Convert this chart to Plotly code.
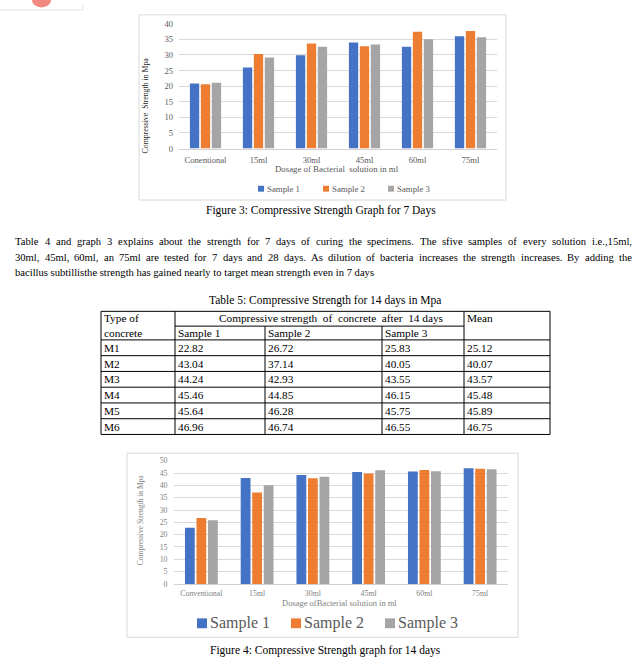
import plotly.graph_objects as go

W, H = 643, 667

# ---------------- data ----------------
categories_7d = ["Conentional", "15ml", "30ml", "45ml", "60ml", "75ml"]
categories_14d = ["Conventional", "15ml", "30ml", "45ml", "60ml", "75ml"]
series_names = ["Sample 1", "Sample 2", "Sample 3"]

sample1_7d = [20.8, 26.0, 29.9, 34.0, 32.6, 36.0]
sample2_7d = [20.6, 30.3, 33.7, 32.8, 37.4, 37.7]
sample3_7d = [21.1, 29.2, 32.6, 33.3, 35.0, 35.7]

mix_types = ["M1", "M2", "M3", "M4", "M5", "M6"]
sample1_14d = [22.82, 43.04, 44.24, 45.46, 45.64, 46.96]
sample2_14d = [26.72, 37.14, 42.93, 44.85, 46.28, 46.74]
sample3_14d = [25.83, 40.05, 43.55, 46.15, 45.75, 46.55]
mean_14d = [25.12, 40.07, 43.57, 45.48, 45.89, 46.75]

y_ticks_7d = [0, 5, 10, 15, 20, 25, 30, 35, 40]
y_ticks_14d = [0, 5, 10, 15, 20, 25, 30, 35, 40, 45, 50]

colors = ["#4472C4", "#ED7D31", "#A5A5A5"]

caption_7d = "Figure 3: Compressive Strength Graph for 7 Days"
caption_14d = "Figure 4: Compressive Strength graph for 14 days"
table_caption = "Table 5: Compressive Strength for 14 days in Mpa"
paragraph = [
    "Table 4 and graph 3 explains about the strength for 7 days of curing the specimens. The sfive samples of every solution i.e.,15ml,",
    "30ml, 45ml, 60ml, an 75ml are tested for 7 days and 28 days. As dilution of bacteria increases the strength increases. By adding the",
    "bacillus subtillisthe strength has gained nearly to target mean strength even in 7 days",
]

FONT = "Liberation Serif, Times New Roman, serif"


def X(px):
    return px / W


def Y(py):
    return 1 - py / H


annotations = []
shapes = []


def text(x, y, s, size, color="#000000", xanchor="left", yanchor="middle", angle=0):
    annotations.append(dict(
        x=X(x), y=Y(y), xref="paper", yref="paper", text=s, showarrow=False,
        xanchor=xanchor, yanchor=yanchor, textangle=angle, borderpad=0, borderwidth=0,
        font=dict(family=FONT, size=size, color=color),
    ))


def line(x0, y0, x1, y1, color="#000000", width=1):
    shapes.append(dict(type="line", xref="paper", yref="paper",
                       x0=X(x0), y0=Y(y0), x1=X(x1), y1=Y(y1),
                       line=dict(color=color, width=width)))


def rect(x0, y0, x1, y1, fill=None, color="#D9D9D9", width=1):
    shapes.append(dict(type="rect", xref="paper", yref="paper",
                       x0=X(x0), y0=Y(y0), x1=X(x1), y1=Y(y1),
                       fillcolor=fill if fill else "rgba(0,0,0,0)",
                       line=dict(color=color, width=width)))


fig = go.Figure()

# ---------------- bars ----------------
for name, vals, col in zip(series_names, [sample1_7d, sample2_7d, sample3_7d], colors):
    fig.add_trace(go.Bar(x=categories_7d, y=vals, name=name, marker=dict(color=col, line=dict(width=0)),
                         xaxis="x", yaxis="y", showlegend=False))
for name, vals, col in zip(series_names, [sample1_14d, sample2_14d, sample3_14d], colors):
    fig.add_trace(go.Bar(x=categories_14d, y=vals, name=name, marker=dict(color=col, line=dict(width=0)),
                         xaxis="x2", yaxis="y2", showlegend=False))

# ---------------- chart frames ----------------
rect(139, 10, 506, 198)
rect(127, 455, 518, 642)

# chart 1 texts
text(337, 166, "Dosage of Bacterial\u00a0 solution in ml", 8.8, "#595959", xanchor="center")
text(145, 102, "Compressive\u00a0 Strength in Mpa", 7.8, "#262626", xanchor="center", angle=-90)
lx = 258
for name, col in zip(series_names, colors):
    rect(lx, 183.5, lx + 6, 189.5, fill=col, color=col, width=0)
    text(lx + 9, 186.5, name, 8.8, "#595959")
    lx += 65

# chart 2 texts
text(340, 607, "Dosage ofBacterial solution in ml", 8.5, "#7F7F7F", xanchor="center")
text(140, 523, "Compressive Strength in Mpa", 7.5, "#7F7F7F", xanchor="center", angle=-90)
lx = 197
for name, col in zip(series_names, colors):
    rect(lx, 622.7, lx + 10, 632.7, fill=col, color=col, width=0)
    text(lx + 13, 627.7, name, 16, "#595959")
    lx += 94

# ---------------- captions ----------------
text(321, 209, caption_7d, 11.5, xanchor="center")
text(325, 300, table_caption, 11.5, xanchor="center")
text(325, 655, caption_14d, 11.5, xanchor="center")

# ---------------- justified paragraph ----------------
TW = {' ': 250, '!': 333, ',': 250, '-': 333, '.': 250, ':': 278, ';': 278,
      '0': 500, '1': 500, '2': 500, '3': 500, '4': 500, '5': 500, '6': 500, '7': 500, '8': 500, '9': 500,
      'A': 722, 'B': 667, 'C': 667, 'D': 722, 'E': 611, 'F': 556, 'G': 722, 'H': 722, 'I': 333,
      'J': 389, 'K': 722, 'L': 611, 'M': 889, 'N': 722, 'O': 722, 'P': 556, 'Q': 722, 'R': 667,
      'S': 556, 'T': 611, 'U': 722, 'V': 722, 'W': 944, 'X': 722, 'Y': 722, 'Z': 611,
      'a': 444, 'b': 500, 'c': 444, 'd': 500, 'e': 444, 'f': 333, 'g': 500, 'h': 500, 'i': 278,
      'j': 278, 'k': 500, 'l': 278, 'm': 778, 'n': 500, 'o': 500, 'p': 500, 'q': 500, 'r': 333,
      's': 389, 't': 278, 'u': 500, 'v': 500, 'w': 722, 'x': 500, 'y': 500, 'z': 444}
PFS = 10.6
left, right = 15, 632
for li, ln in enumerate(paragraph):
    yy = 240 + li * 16
    if li < len(paragraph) - 1:
        words = ln.split(" ")
        widths = [sum(TW.get(c, 500) for c in w) * PFS / 1000 for w in words]
        gap = (right - left - sum(widths)) / (len(words) - 1)
        xx = left
        for w, wd in zip(words, widths):
            text(xx, yy, w, PFS)
            xx += wd + gap
    else:
        text(left, yy, ln, PFS)

# ---------------- table ----------------
TFS = 11.3
cx = [101, 175, 265, 382, 464, 550]
ry = [311, 326, 340, 356, 372, 388, 404, 420, 436]
line(cx[0], ry[0], cx[-1], ry[0])
line(cx[1], ry[1], cx[4], ry[1])
for yv in ry[2:]:
    line(cx[0], yv, cx[-1], yv)
for i, xv in enumerate(cx):
    top = ry[1] if i in (2, 3) else ry[0]
    line(xv, top, xv, ry[-1])

text(cx[0] + 3, 318, "Type of", TFS)
text(cx[0] + 3, 333, "concrete", TFS)
text(331, 318, "Compressive strength\u00a0 of\u00a0 concrete\u00a0 after\u00a0 14 days", TFS, xanchor="center")
text(cx[4] + 3, 318, "Mean", TFS)
for j, nm in enumerate(series_names):
    text(cx[1 + j] + 3, 333, nm, TFS)
cols_data = [mix_types, sample1_14d, sample2_14d, sample3_14d, mean_14d]
for r in range(len(mix_types)):
    yc = (ry[2 + r] + ry[3 + r]) / 2
    for c, colvals in enumerate(cols_data):
        v = colvals[r]
        s = v if isinstance(v, str) else f"{v:.2f}"
        text(cx[c] + 3, yc, s, TFS)

# ---------------- top-left fragment ----------------
shapes.append(dict(type="circle", xref="paper", yref="paper", x0=X(32), x1=X(51), y0=Y(-12), y1=Y(2.5),
                   fillcolor="#F08A80", line=dict(width=0)))
line(0, 5, 83, 5, color="#E3E3E3")
line(83, 0, 83, 5, color="#E3E3E3")

# ---------------- layout ----------------
axis_font7 = dict(family=FONT, size=8.6, color="#595959")
axis_font14 = dict(family=FONT, size=7.8, color="#7F7F7F")

fig.update_layout(
    width=W, height=H, margin=dict(l=0, r=0, t=0, b=0),
    paper_bgcolor="white", plot_bgcolor="white",
    barmode="group", bargap=0.38, bargroupgap=0.15,
    showlegend=False,
    xaxis=dict(domain=[X(179), X(497)], anchor="y", showgrid=False, showline=True,
               linecolor="#D0D0D0", linewidth=1, ticks="", tickfont=axis_font7,
               ticklabelstandoff=3, fixedrange=True),
    yaxis=dict(domain=[Y(145.7), Y(19)], anchor="x", range=[0, 40], tickvals=y_ticks_7d,
               showgrid=True, gridcolor="#D9D9D9", gridwidth=1, zeroline=False, showline=False,
               ticks="", tickfont=axis_font7, ticklabelstandoff=5, fixedrange=True),
    xaxis2=dict(domain=[X(173.5), X(508)], anchor="y2", showgrid=False, showline=True,
                linecolor="#D0D0D0", linewidth=1, ticks="", tickfont=axis_font14,
                ticklabelstandoff=2, fixedrange=True),
    yaxis2=dict(domain=[Y(587.7), Y(462.7)], anchor="x2", range=[0, 50], tickvals=y_ticks_14d,
                showgrid=True, gridcolor="#D9D9D9", gridwidth=1, zeroline=False, showline=False,
                ticks="", tickfont=axis_font14, ticklabelstandoff=5, fixedrange=True),
    shapes=shapes,
    annotations=annotations,
)

fig.write_html("out.html", config={"displayModeBar": False},
               post_script="document.body.style.margin='0';document.body.style.overflow='hidden';")
